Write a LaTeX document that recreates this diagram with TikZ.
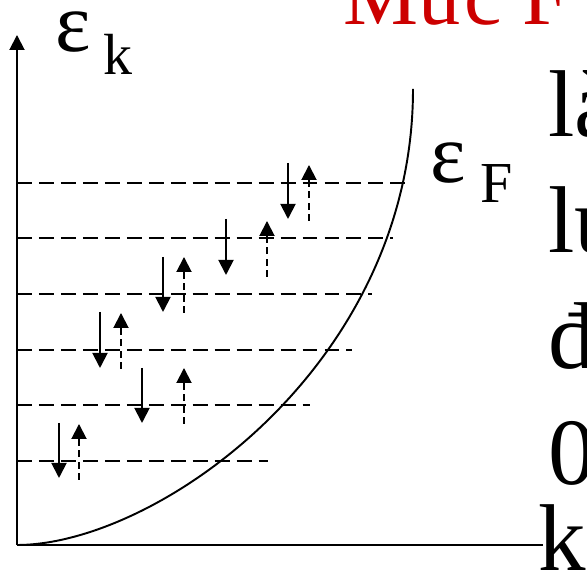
\documentclass[tikz,border=0pt]{standalone}
\usepackage{fontspec}
\setmainfont{Liberation Serif}
\usetikzlibrary{arrows.meta}
\definecolor{slidered}{RGB}{204,0,0}

\tikzset{
    axis/.style={line width=1.1pt},
    level/.style={line width=1.1pt, dash pattern=on 8.5pt off 4pt},
    spindown/.style={line width=1.1pt, -{Triangle[length=0.3cm,width=0.3cm]}},
    spinup/.style={line width=1.1pt, dash pattern=on 4pt off 2.5pt, -{Triangle[length=0.3cm,width=0.3cm]}},
    greek/.style={inner sep=0pt, anchor=base west, font=\fontsize{48}{48}\selectfont},
    subs/.style={inner sep=0pt, anchor=base west, font=\fontsize{33}{33}\selectfont},
    bigtext/.style={inner sep=0pt, anchor=base west, font=\fontsize{54}{54}\selectfont},
    title/.style={inner sep=0pt, anchor=base west, text=slidered, font=\fontsize{48}{48}\selectfont}
}

\begin{document}
\begin{tikzpicture}
    \useasboundingbox (0,0) rectangle (11.74,11.44);
    \clip (0,0) rectangle (11.74,11.44);
    % axes and the band
    \path coordinate (O) at (0.34,0.54)
        coordinate (Ytop) at (0.34,10.74)
        coordinate (Xend) at (10.86,0.54)
        coordinate (Btop) at (8.26,9.66);
    \draw[axis, -{Triangle[length=0.3cm,width=0.3cm]}] (O) -- (Ytop);
    \draw[axis] (O) -- (Xend);
    \draw[axis] (O) .. controls +(2.8,0) and +(0,-5.52) .. (Btop);
    % filled levels
    \path coordinate (L1) at (0.34,2.22) coordinate (R1) at (5.36,2.22)
        coordinate (L2) at (0.34,3.34) coordinate (R2) at (6.20,3.34)
        coordinate (L3) at (0.34,4.44) coordinate (R3) at (7.04,4.44)
        coordinate (L4) at (0.34,5.56) coordinate (R4) at (7.44,5.56)
        coordinate (L5) at (0.34,6.68) coordinate (R5) at (7.86,6.68)
        coordinate (L6) at (0.34,7.78) coordinate (R6) at (8.10,7.78);
    \draw[level] (L1) -- (R1);
    \draw[level] (L2) -- (R2);
    \draw[level] (L3) -- (R3);
    \draw[level] (L4) -- (R4);
    \draw[level] (L5) -- (R5);
    \draw[level] (L6) -- (R6);
    % spin pairs
    \path coordinate (dAt) at (1.18,2.98) coordinate (dAb) at (1.18,1.88)
        coordinate (uAb) at (1.58,1.84) coordinate (uAt) at (1.58,2.96)
        coordinate (dBt) at (2.84,4.08) coordinate (dBb) at (2.84,2.98)
        coordinate (uBb) at (3.68,2.96) coordinate (uBt) at (3.68,4.08)
        coordinate (dCt) at (2.00,5.20) coordinate (dCb) at (2.00,4.08)
        coordinate (uCb) at (2.42,4.06) coordinate (uCt) at (2.42,5.18)
        coordinate (dDt) at (3.26,6.30) coordinate (dDb) at (3.26,5.20)
        coordinate (uDb) at (3.68,5.18) coordinate (uDt) at (3.68,6.30)
        coordinate (dEt) at (4.52,7.06) coordinate (dEb) at (4.52,5.94)
        coordinate (uEb) at (5.34,5.90) coordinate (uEt) at (5.34,7.02)
        coordinate (dFt) at (5.76,8.18) coordinate (dFb) at (5.76,7.06)
        coordinate (uFb) at (6.18,7.02) coordinate (uFt) at (6.18,8.14);
    \draw[spindown] (dAt) -- (dAb);
    \draw[spinup] (uAb) -- (uAt);
    \draw[spindown] (dBt) -- (dBb);
    \draw[spinup] (uBb) -- (uBt);
    \draw[spindown] (dCt) -- (dCb);
    \draw[spinup] (uCb) -- (uCt);
    \draw[spindown] (dDt) -- (dDb);
    \draw[spinup] (uDb) -- (uDt);
    \draw[spindown] (dEt) -- (dEb);
    \draw[spinup] (uEb) -- (uEt);
    \draw[spindown] (dFt) -- (dFb);
    \draw[spinup] (uFb) -- (uFt);
    % labels
    \node[greek] (epsk) at (1.10,10.40) {ε};
    \node[subs] (subk) at (2.06,9.94) {k};
    \node[greek] (epsF) at (8.60,7.78) {ε};
    \node[subs] (subF) at (9.60,7.38) {F};
    \node[bigtext] (klab) at (10.76,0.02) {k};
    \node[title] (head) at (6.86,10.94) {Mức F};
    \node[bigtext] (row1) at (10.96,8.70) {là};
    \node[bigtext] (row2) at (10.96,6.38) {lu};
    \node[bigtext] (row3) at (10.96,4.06) {đ};
    \node[bigtext] (row4) at (10.96,1.74) {0};
\end{tikzpicture}
\end{document}
